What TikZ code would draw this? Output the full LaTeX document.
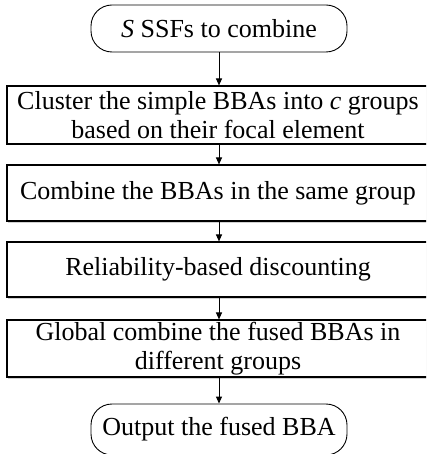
\documentclass[tikz,border=0pt]{standalone}
\usepackage{fontspec}
\setmainfont{Liberation Serif}
\usetikzlibrary{arrows.meta,shadows}
\begin{document}
\begin{tikzpicture}[x=1pt,y=1pt,
  txt/.style={font=\fontsize{26}{29}\selectfont, align=center, inner sep=0pt},
  procbox/.style={txt, draw, line width=1.1pt, minimum width=422pt,
     drop shadow={shadow xshift=1pt, shadow yshift=-1.5pt, fill=black!35}, fill=white},
  term/.style={txt, draw, line width=0.9pt, rounded corners=21pt, minimum width=256pt, fill=white},
  flow/.style={-{Triangle[length=7pt,width=6pt]}, line width=1pt}]
\clip (0,0) rectangle (426,-454);
\useasboundingbox (0,0) rectangle (426,-454);
\node[term, minimum height=47pt] (start) at (219,-28.5) {\textit{S} SSFs to combine};
\node[procbox, minimum height=58pt] (b1) at (218,-115) {Cluster the simple BBAs into \textit{c} groups\\based on their focal element};
\node[procbox, minimum height=56pt] (b2) at (218,-193) {Combine the BBAs in the same group};
\node[procbox, minimum height=55pt] (b3) at (218,-269.5) {Reliability-based discounting};
\node[procbox, minimum height=57pt] (b4) at (218,-348.5) {Global combine the fused BBAs in\\different groups};
\node[term, minimum height=51pt] (end) at (219,-429.5) {Output the fused BBA};
\draw[flow] (start.south) -- (start.south |- b1.north);
\draw[flow] (b1.south -| start.south) -- (b2.north -| start.south);
\draw[flow] (b2.south -| start.south) -- (b3.north -| start.south);
\draw[flow] (b3.south -| start.south) -- (b4.north -| start.south);
\draw[flow] (b4.south -| start.south) -- (end.north);
\end{tikzpicture}
\end{document}
